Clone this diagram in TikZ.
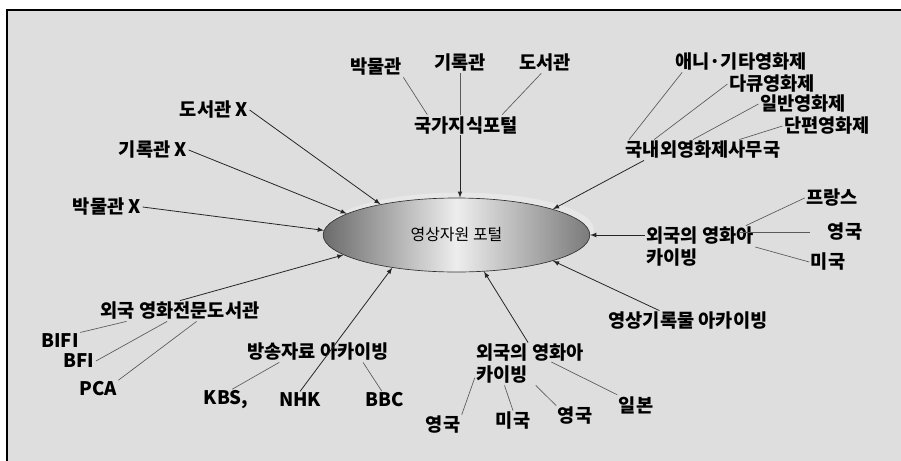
\documentclass[tikz,border=0pt]{standalone}
\usepackage{fontspec}
\newfontfamily\krfont{Noto Sans CJK KR}
\usetikzlibrary{shapes,arrows,shadows,calc}
\definecolor{bggray}{HTML}{DEDEDE}
\definecolor{linegray}{HTML}{5A5A5A}

\begin{document}
\begin{tikzpicture}[x=0.75pt,y=-0.75pt,
  lbl/.style={font=\krfont\fontsize{14pt}{16.5pt}\selectfont\bfseries, inner sep=1pt, align=left},
  arr/.style={-latex, draw=black!85, line width=0.6pt},
  ln/.style={draw=linegray, line width=0.5pt}]
\useasboundingbox (0,0) rectangle (901,461);
\draw[fill=bggray, line width=0.8pt] (7,10) rectangle (920,480);

% portal in the middle
\node[ellipse, minimum width=200pt, minimum height=55.5pt, inner sep=0pt,
  draw=black!80, line width=0.5pt,
  left color=black!58, right color=black!52, middle color=black!7,
  drop shadow={shadow xshift=3pt, shadow yshift=4pt, fill=white, opacity=0.3},
  font=\krfont\fontsize{12pt}{14pt}\selectfont] (portal) at (456.5,235) {영상자원 포털};

% top
\node[lbl] (bm) at (376,67) {박물관};
\node[lbl] (kr) at (460,63) {기록관};
\node[lbl] (ds) at (545,63) {도서관};
\node[lbl] (gk) at (466,125) {국가지식포털};

% left
\node[lbl] (dx) at (214,110) {도서관 X};
\node[lbl] (kx) at (153,150) {기록관 X};
\node[lbl] (bx) at (107,207) {박물관 X};

% top right
\node[lbl] (an) at (741,62) {애니·기타영화제};
\node[lbl] (dk) at (772,84) {다큐영화제};
\node[lbl] (ib) at (803,104) {일반영화제};
\node[lbl] (dp) at (827,126) {단편영화제};
\node[lbl] (nw) at (703,150) {국내외영화제사무국};

% right
\node[lbl] (fr) at (700,247) {외국의 영화아\\카이빙};
\node[lbl] (frf) at (832,198) {프랑스};
\node[lbl] (fru) at (845,232) {영국};
\node[lbl] (fra) at (828,262) {미국};
\node[lbl] (va) at (688,321) {영상기록물 아카이빙};

% bottom
\node[lbl] (fb) at (530,364) {외국의 영화아\\카이빙};
\node[lbl] (fbu) at (443,425) {영국};
\node[lbl] (fba) at (513,421) {미국};
\node[lbl] (fbe) at (575,416) {영국};
\node[lbl] (fbj) at (636,405) {일본};

\node[lbl] (bs) at (318,352) {방송자료 아카이빙};
\node[lbl] (kbs) at (226,400) {KBS,};
\node[lbl] (nhk) at (300,400) {NHK};
\node[lbl] (bbc) at (385,400) {BBC};

% bottom left
\node[lbl] (fl) at (180,311) {외국 영화전문도서관};
\node[lbl] (bifi) at (60,341) {BIFI};
\node[lbl] (bfi) at (79,361) {BFI};
\node[lbl] (pca) at (98,389) {PCA};

% arrows into the portal
\draw[arr] (dx.east) -- (portal.158);
\draw[arr] (kx.east) -- (portal.169);
\draw[arr] (bx.east) -- (portal.178);
\draw[arr] (fl.north) -- (portal.190);
\draw[arr] (nhk.north) -- (portal.207);
\draw[arr] (fb.95) -- (portal.307);
\draw[arr] (va.160) -- (portal.345);
\draw[arr] (fr.west |- portal.east) -- (portal.east);
\draw[arr] (nw.190) -- (portal.15);
\draw[arr] (gk.south -| kr.south) -- (portal.north -| kr.south);

% plain lines
\draw[ln] (bm.south east) -- (gk.165);
\draw[ln] (kr.south) -- (gk.north -| kr.south);
\draw[ln] (ds.250) -- (gk.16);
\draw[ln] (nw.172) -- (an.190);
\draw[ln] (nw.168) -- (dk.west);
\draw[ln] (nw.134) -- (ib.west);
\draw[ln] (nw.16) -- (dp.west);
\draw[ln] (fr.25) -- (frf.west);
\draw[ln] ($(fr.east |- fru.west)+(-16,0)$) -- ($(fru.west)+(-16,0)$);
\draw[ln] (fr.east) -- (fra.west);
\draw[ln] (fb.194) -- (fbu.north east);
\draw[ln] (fb.220) -- (fba.north);
\draw[ln] (fb.285) -- (fbe.north west);
\draw[ln] (fbj.north west) -- ($(fb.east)+(-34,-2)$);
\draw[ln] (bs.195) -- (kbs.60);
\draw[ln] (bs.347) -- (bbc.110);
\draw[ln] (fl.191) -- (bifi.north east);
\draw[ln] (fl.219) -- (bfi.east);
\draw[ln] (fl.328) -- (pca.north east);
\end{tikzpicture}
\end{document}
